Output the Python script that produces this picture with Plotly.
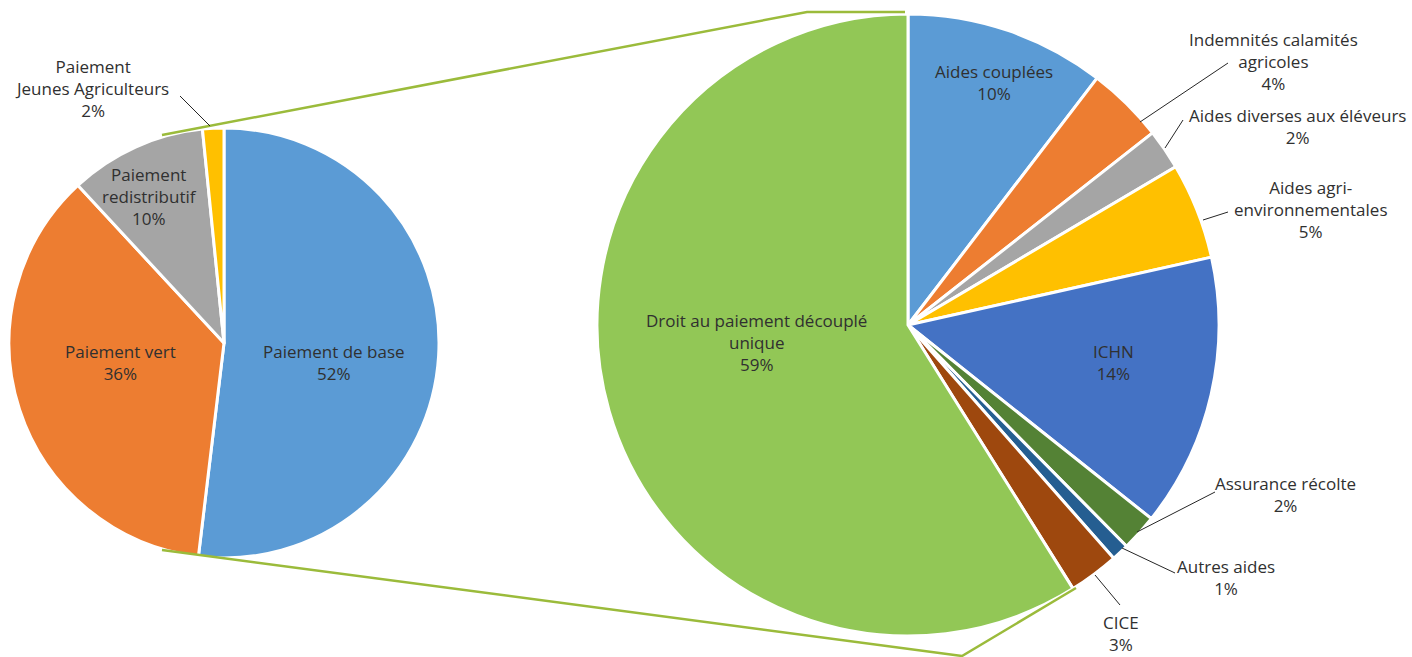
import plotly.graph_objects as go

W, H = 1412, 657

# ---- data ----
left_labels = ["Paiement de base", "Paiement vert", "Paiement redistributif", "Paiement Jeunes Agriculteurs"]
left_values = [51.9, 36.2, 10.3, 1.6]
left_colors = ["#5B9BD5", "#ED7D31", "#A5A5A5", "#FFC000"]

right_labels = ["Aides couplées", "Indemnités calamités agricoles", "Aides diverses aux éléveurs",
                "Aides agri-environnementales", "ICHN", "Assurance récolte", "Autres aides", "CICE",
                "Droit au paiement découplé unique"]
right_values = [10.4, 4.0, 2.1, 5.0, 14.2, 1.9, 0.9, 2.6, 58.9]
right_colors = ["#5B9BD5", "#ED7D31", "#A5A5A5", "#FFC000", "#4472C4", "#548235", "#255E91", "#9E480E", "#92C756"]

# label text (line breaks) for display
left_text = ["Paiement de base", "Paiement vert", "Paiement<br>redistributif", "Paiement<br>Jeunes Agriculteurs"]
right_text = ["Aides couplées", "Indemnités calamités<br>agricoles", "Aides diverses aux éléveurs",
              "Aides agri-<br>environnementales", "ICHN", "Assurance récolte", "Autres aides", "CICE",
              "Droit au paiement découplé<br>unique"]


def px(x):
    return x / W


def py(y):
    return 1 - y / H


def dom(cx, cy, r):
    return dict(x=[px(cx - r), px(cx + r)], y=[py(cy + r), py(cy - r)])


fig = go.Figure()
fig.add_trace(go.Pie(labels=left_labels, values=left_values, sort=False, direction="clockwise",
                     rotation=0, textinfo="none", hoverinfo="label+percent",
                     marker=dict(colors=left_colors, line=dict(color="white", width=3)),
                     domain=dom(224, 343, 215), showlegend=False))
fig.add_trace(go.Pie(labels=right_labels, values=right_values, sort=False, direction="clockwise",
                     rotation=0, textinfo="none", hoverinfo="label+percent",
                     marker=dict(colors=right_colors, line=dict(color="white", width=3)),
                     domain=dom(908, 325, 311), showlegend=False))

# label positions (pixel centers of text blocks)
left_pos = [(334, 362), (120, 362), (149, 196), (92, 88)]
right_pos = [(994, 83), (1273, 61), (1297, 126), (1310, 209), (1113, 362), (1285, 494),
             (1226, 577), (1121, 633), (756, 342)]

annotations = []
for t, v, (x, y) in zip(left_text, left_values, left_pos):
    annotations.append(dict(text=f"{t}<br>{v:.0f}%", x=px(x), y=py(y), xref="paper", yref="paper",
                            showarrow=False, xanchor="center", yanchor="middle", align="center"))
for t, v, (x, y) in zip(right_text, right_values, right_pos):
    annotations.append(dict(text=f"{t}<br>{v:.0f}%", x=px(x), y=py(y), xref="paper", yref="paper",
                            showarrow=False, xanchor="center", yanchor="middle", align="center"))


def path(pts):
    return "M " + " L ".join(f"{px(x)},{py(y)}" for x, y in pts)


shapes = []
# connector lines between the two pies
shapes.append(dict(type="path", xref="paper", yref="paper",
                   path=path([(162, 135), (807, 12), (905, 12)]),
                   line=dict(color="#9BBB3B", width=2.5)))
shapes.append(dict(type="path", xref="paper", yref="paper",
                   path=path([(162, 550), (962, 656), (1076, 588)]),
                   line=dict(color="#9BBB3B", width=2.5)))
# leader lines
leaders = [
    [(180, 96), (210, 126)],
    [(1140, 122), (1228, 63)],
    [(1165, 148), (1183, 120)],
    [(1203, 220), (1228, 212)],
    [(1137, 532), (1215, 492)],
    [(1122, 548), (1175, 573)],
    [(1095, 575), (1120, 605)],
]
for seg in leaders:
    shapes.append(dict(type="path", xref="paper", yref="paper", path=path(seg),
                       line=dict(color="#262626", width=1)))

fig.update_layout(width=W, height=H, margin=dict(l=0, r=0, t=0, b=0),
                  paper_bgcolor="white", plot_bgcolor="white",
                  font=dict(family="Open Sans", size=17, color="#303030"),
                  annotations=annotations, shapes=shapes)

fig.write_html("out.html")
